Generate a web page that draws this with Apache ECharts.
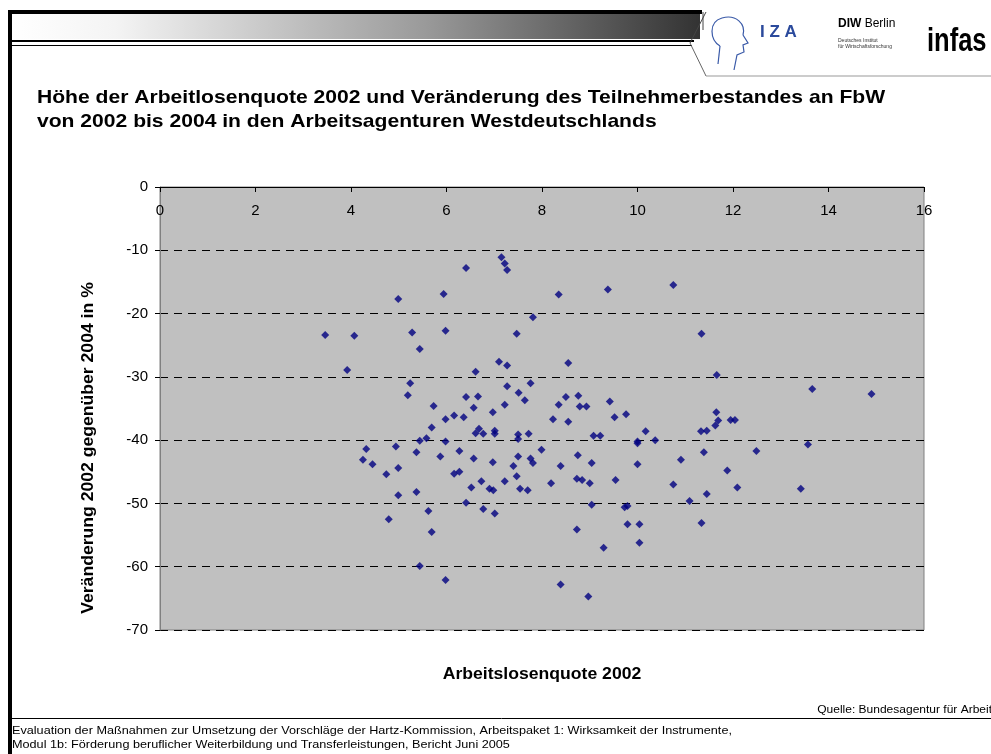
<!DOCTYPE html>
<html>
<head>
<meta charset="utf-8">
<script src="https://cdn.jsdelivr.net/npm/echarts@6/dist/echarts.min.js"></script>
<style>
  html, body { margin: 0; padding: 0; background: #ffffff; }
  #chart { width: 991px; height: 754px; }
</style>
</head>
<body>
<div id="chart"></div>
<script>
// Arbeitslosenquote 2002 (x) und Veränderung 2002-2004 in % (y), je Agentur
var quote2002 = [
  7.15, 7.22, 7.27, 6.41, 4.99, 5.94, 3.46, 4.07, 5.28, 5.98,
  7.47, 5.44, 3.92, 7.10, 7.27, 6.61, 5.24, 5.19, 5.73, 6.41,
  6.66, 6.57, 7.27, 7.51, 7.22, 6.97, 6.16, 6.36, 5.98, 5.69,
  6.61, 6.68, 6.77, 7.01, 7.01, 7.50, 7.50, 5.44, 5.58, 5.98,
  4.32, 4.25, 4.45, 4.94, 5.37, 5.87, 6.27, 6.57, 6.97, 7.40,
  7.50, 7.47, 4.74, 4.99, 6.16, 6.27, 6.73, 6.52, 6.90, 6.98,
  7.22, 7.54, 4.99, 5.37, 6.41, 5.62, 6.77, 7.01, 4.79, 5.69,
  5.44, 5.98, 8.35, 9.38, 10.75, 7.81, 11.34, 8.55, 11.66, 7.76,
  7.64, 8.35, 8.50, 8.76, 8.79, 8.93, 9.42, 9.52, 9.76, 8.23,
  8.55, 11.65, 11.69, 11.63, 11.33, 11.45, 10.17, 10.37, 10.00, 10.00,
  9.08, 9.22, 7.72, 7.99, 7.76, 7.81, 7.70, 8.19, 8.39, 8.75,
  9.04, 8.73, 8.84, 9.00, 9.54, 10.00, 10.91, 10.75, 11.09, 11.45,
  9.04, 9.73, 9.79, 9.79, 10.04, 10.04, 11.34, 8.73, 9.29, 8.39,
  8.97, 13.66, 14.90, 11.95, 12.04, 11.39, 12.49, 13.57, 11.88, 12.09,
  13.42
];
var veraenderung = [
  -11.1, -12.1, -13.1, -12.8, -17.7, -16.9, -23.4, -23.5, -23.0, -22.7,
  -23.2, -25.6, -28.9, -27.6, -28.2, -29.2, -31.0, -32.9, -34.6, -33.2,
  -33.1, -34.9, -31.5, -32.5, -34.4, -35.6, -36.1, -36.4, -36.7, -38.0,
  -38.9, -38.2, -39.0, -38.5, -39.0, -39.1, -39.8, -40.1, -39.7, -40.2,
  -41.4, -43.1, -43.8, -41.0, -41.9, -42.6, -41.7, -42.9, -43.5, -44.1,
  -42.6, -45.7, -45.4, -44.4, -45.3, -45.0, -46.5, -47.5, -47.7, -47.9,
  -46.5, -47.7, -48.7, -48.2, -49.9, -51.2, -50.9, -51.6, -52.5, -54.5,
  -59.9, -62.1, -17.0, -16.2, -15.5, -20.6, -23.2, -27.8, -29.7, -31.0,
  -33.7, -34.4, -33.2, -33.0, -34.7, -34.7, -33.9, -36.4, -35.9, -36.7,
  -37.1, -35.6, -36.9, -37.7, -38.6, -38.5, -38.6, -40.0, -40.2, -40.5,
  -39.3, -39.3, -39.0, -41.5, -42.9, -43.6, -47.9, -46.8, -44.1, -42.4,
  -43.6, -46.1, -46.3, -46.8, -46.3, -43.8, -43.1, -47.0, -49.6, -48.5,
  -50.2, -50.6, -50.4, -53.3, -53.3, -56.2, -53.1, -54.1, -57.0, -62.8,
  -64.7, -31.9, -32.7, -36.8, -36.8, -41.9, -41.7, -40.7, -44.8, -47.5,
  -47.7
];
var footerZeilen = [
  'Evaluation der Maßnahmen zur Umsetzung der Vorschläge der Hartz-Kommission, Arbeitspaket 1: Wirksamkeit der Instrumente,',
  'Modul 1b: Förderung beruflicher Weiterbildung und Transferleistungen, Bericht Juni 2005'
];

var punkte = quote2002.map(function (x, i) { return [x, veraenderung[i]]; });
var font = 'Arial, "Liberation Sans", sans-serif';

var myChart = echarts.init(document.getElementById('chart'));
var option = {
  backgroundColor: '#ffffff',
  animation: false,
  grid: {
    left: 160, right: 67, top: 187, bottom: 124,
    show: true,
    backgroundColor: '#c0c0c0',
    borderColor: '#808080',
    borderWidth: 1
  },
  xAxis: {
    type: 'value',
    position: 'top',
    min: 0, max: 16, interval: 2,
    axisLine: { show: true, onZero: false, lineStyle: { color: '#000', width: 1 } },
    axisTick: { show: true, inside: true, length: 5, lineStyle: { color: '#000' } },
    axisLabel: { inside: true, margin: 16, fontSize: 15, color: '#000', fontFamily: font },
    splitLine: { show: false }
  },
  yAxis: {
    type: 'value',
    min: -70, max: 0, interval: 10,
    axisLine: { show: true, onZero: false, lineStyle: { color: '#808080' } },
    axisTick: { show: true, length: 5, lineStyle: { color: '#000' } },
    axisLabel: { margin: 12, fontSize: 15, color: '#000', fontFamily: font },
    splitLine: { show: true, lineStyle: { color: '#000', type: [8, 6], width: 1 } }
  },
  series: [{
    type: 'scatter',
    data: punkte,
    symbol: 'diamond',
    symbolSize: 8,
    itemStyle: { color: '#000080' }
  }],
  graphic: [
    // Rahmen links und oben
    { type: 'rect', shape: { x: 8, y: 10, width: 4, height: 744 }, style: { fill: '#000' } },
    { type: 'rect', shape: { x: 8, y: 10, width: 694, height: 4 }, style: { fill: '#000' } },
    {
      type: 'rect', shape: { x: 12, y: 14, width: 688, height: 25 },
      style: {
        fill: new echarts.graphic.LinearGradient(0, 0, 1, 0, [
          { offset: 0, color: '#ffffff' },
          { offset: 0.15, color: '#f4f4f4' },
          { offset: 0.6, color: '#9a9a9a' },
          { offset: 1, color: '#333333' }
        ])
      }
    },
    { type: 'line', shape: { x1: 12, y1: 41, x2: 694, y2: 41 }, style: { stroke: '#000', lineWidth: 2 } },
    { type: 'line', shape: { x1: 12, y1: 45.5, x2: 692, y2: 45.5 }, style: { stroke: '#000', lineWidth: 1 } },
    // Logo-Bereich
    { type: 'line', shape: { x1: 706, y1: 12, x2: 690, y2: 43 }, style: { stroke: '#444', lineWidth: 1 } },
    { type: 'line', shape: { x1: 690, y1: 43, x2: 706, y2: 76 }, style: { stroke: '#666', lineWidth: 1 } },
    { type: 'line', shape: { x1: 703, y1: 12, x2: 703, y2: 30 }, style: { stroke: '#444', lineWidth: 1 } },
    { type: 'line', shape: { x1: 706, y1: 76, x2: 991, y2: 76 }, style: { stroke: '#999', lineWidth: 1 } },
    { type: 'bezierCurve', shape: { x1: 722, y1: 18, cpx1: 736, cpy1: 14, cpx2: 746, cpy2: 24, x2: 743, y2: 35 }, style: { fill: null, stroke: '#3a5aa8', lineWidth: 1.2 } },
    { type: 'polyline', shape: { points: [[743, 35], [748, 43], [743, 45], [744, 52], [737, 55], [734, 70]] }, style: { fill: null, stroke: '#3a5aa8', lineWidth: 1.2 } },
    { type: 'bezierCurve', shape: { x1: 722, y1: 18, cpx1: 708, cpy1: 22, cpx2: 710, cpy2: 40, x2: 720, y2: 46 }, style: { fill: null, stroke: '#3a5aa8', lineWidth: 1.2 } },
    { type: 'line', shape: { x1: 720, y1: 46, x2: 718, y2: 64 }, style: { stroke: '#3a5aa8', lineWidth: 1.2 } },
    { type: 'text', x: 760, y: 24, style: { text: 'I Z A', fontSize: 17, fontWeight: 'bold', fill: '#2b4a9c', fontFamily: font } },
    { type: 'text', x: 838, y: 18, style: { text: '{b|DIW} Berlin', fontSize: 12, fill: '#000', fontFamily: font, rich: { b: { fontSize: 12, fontWeight: 'bold', fontFamily: font } } } },
    { type: 'text', x: 838, y: 38, style: { text: 'Deutsches Institut\nfür Wirtschaftsforschung', fontSize: 5, lineHeight: 6, fill: '#333', fontFamily: font } },
    { type: 'text', x: 927, y: 25, scaleX: 0.75, style: { text: 'infas', fontSize: 34, fontWeight: 'bold', fill: '#000', fontFamily: font } },
    // Titel
    { type: 'text', x: 37, y: 88, scaleX: 1.11, style: { text: 'Höhe der Arbeitlosenquote 2002 und Veränderung des Teilnehmerbestandes an FbW', fontSize: 19, fontWeight: 'bold', fill: '#000', fontFamily: font } },
    { type: 'text', x: 37, y: 112, scaleX: 1.11, style: { text: 'von 2002 bis 2004 in den Arbeitsagenturen Westdeutschlands', fontSize: 19, fontWeight: 'bold', fill: '#000', fontFamily: font } },
    // Achsentitel
    { type: 'text', x: 542, y: 667, scaleX: 1.1, style: { text: 'Arbeitslosenquote 2002', align: 'center', fontSize: 16, fontWeight: 'bold', fill: '#000', fontFamily: font } },
    { type: 'text', x: 89, y: 448, rotation: Math.PI / 2, scaleX: 1.1, style: { text: 'Veränderung 2002 gegenüber 2004 in %', align: 'center', verticalAlign: 'middle', fontSize: 16, fontWeight: 'bold', fill: '#000', fontFamily: font } },
    // Quelle und Fußzeile
    { type: 'text', x: 992, y: 705, scaleX: 1.2, style: { text: 'Quelle: Bundesagentur für Arbeit', align: 'right', fontSize: 10, fill: '#000', fontFamily: font } },
    { type: 'line', shape: { x1: 12, y1: 718.5, x2: 991, y2: 718.5 }, style: { stroke: '#000', lineWidth: 1 } },
    { type: 'text', x: 12, y: 725, scaleX: 1.15, style: { text: footerZeilen[0], fontSize: 11, fill: '#000', fontFamily: font } },
    { type: 'text', x: 12, y: 739, scaleX: 1.15, style: { text: footerZeilen[1], fontSize: 11, fill: '#000', fontFamily: font } }
  ]
};
myChart.setOption(option);
</script>
</body>
</html>
